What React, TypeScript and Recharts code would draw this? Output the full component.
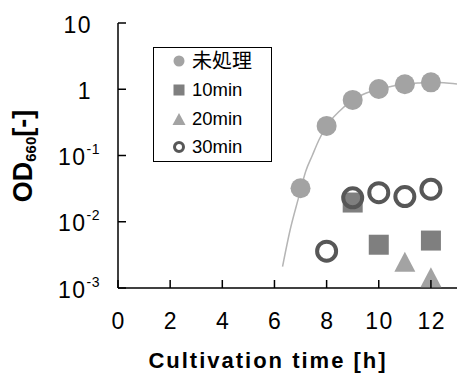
import React from 'react';
import { ComposedChart, XAxis, YAxis, Scatter, Line } from 'recharts';

// ---- data ----
const untreatedHours = [7, 8, 9, 10, 11, 12];
const untreatedOD = [0.032, 0.28, 0.69, 1.01, 1.19, 1.27];
const min10Hours = [9, 10, 12];
const min10OD = [0.0195, 0.0045, 0.0052];
const min20Hours = [11, 12];
const min20OD = [0.0025, 0.00145];
const min30Hours = [8, 9, 10, 11, 12];
const min30OD = [0.0036, 0.023, 0.0275, 0.024, 0.031];
const fitHours = [6.31, 6.6, 6.92, 7.2, 7.45, 7.7, 8, 8.5, 9, 9.5, 10, 10.5, 11, 11.5, 12, 12.5, 13];
const fitOD = [0.0021, 0.0075, 0.0227, 0.058, 0.1, 0.17, 0.28, 0.47, 0.69, 0.87, 1.01, 1.11, 1.19, 1.24, 1.27, 1.25, 1.2];
const seriesNames = ['未処理', '10min', '20min', '30min'];
const xTicks = [0, 2, 4, 6, 8, 10, 12];
const yTicks = [0.001, 0.01, 0.1, 1, 10];
const yTickBases = ['10', '10', '10', '1', '10'];
const yTickExps = ['-3', '-2', '-1', '', ''];
const xTitle = 'Cultivation time [h]';

const toPoints = (hs: number[], vs: number[]) => hs.map((t, i) => ({ t, od: vs[i] }));
const untreatedData = toPoints(untreatedHours, untreatedOD);
const min10Data = toPoints(min10Hours, min10OD);
const min20Data = toPoints(min20Hours, min20OD);
const min30Data = toPoints(min30Hours, min30OD);
const fitData = toPoints(fitHours, fitOD);

const FONT = "'Liberation Sans', Arial, sans-serif";
const C_CIRCLE = '#a3a3a3';
const C_SQUARE = '#7f7f7f';
const C_TRI = '#a3a3a3';
const C_RING = '#575757';

const YTick = (props: any) => {
  const { x, y, payload } = props;
  const i = yTicks.indexOf(payload.value);
  const exp = i >= 0 ? yTickExps[i] : '';
  const base = i >= 0 ? yTickBases[i] : String(payload.value);
  return (
    <g>
      <line x1={x} x2={x + 8} y1={y} y2={y} stroke="#000" strokeWidth={1.5} />
      <text x={exp ? x - 18 : x - 26} y={y + 9.5} textAnchor="end" fontSize={23} fill="#000"
        fontFamily={FONT} letterSpacing={1.5}>
        <tspan>{base}</tspan>
        {exp ? <tspan dy={-11} fontSize={14} letterSpacing={0.5}>{exp}</tspan> : null}
      </text>
    </g>
  );
};

const XTick = (props: any) => {
  const { x, y, payload } = props;
  return (
    <g>
      <line x1={x} x2={x} y1={y} y2={y - 8} stroke="#000" strokeWidth={1.5} />
      <text x={x + 0.75} y={y + 41} textAnchor="middle" fontSize={23} fill="#000"
        fontFamily={FONT} letterSpacing={1.5}>{payload.value}</text>
    </g>
  );
};

const circleShape = (p: any) => <circle cx={p.cx} cy={p.cy} r={10} fill={C_CIRCLE} />;
const squareShape = (p: any) => <rect x={p.cx - 10} y={p.cy - 10} width={20} height={20} fill={C_SQUARE} />;
const triShape = (p: any) => (
  <polygon points={`${p.cx},${p.cy - 10} ${p.cx + 10.5},${p.cy + 10} ${p.cx - 10.5},${p.cy + 10}`} fill={C_TRI} />
);
const ringShape = (p: any) => <circle cx={p.cx} cy={p.cy} r={9.5} fill="none" stroke={C_RING} strokeWidth={4} />;

const legendMarkers = [
  <circle cx={8} cy={8} r={5.5} fill={C_CIRCLE} />,
  <rect x={2.5} y={2.5} width={11} height={11} fill={C_SQUARE} />,
  <polygon points="8,2 14.5,14 1.5,14" fill={C_TRI} />,
  <circle cx={8} cy={8} r={4.5} fill="none" stroke={C_RING} strokeWidth={3} />,
];
const legendRowCenters = [13.5, 42.5, 71, 99.5];

export default function App() {
  return (
    <div style={{ position: 'absolute', left: 0, top: 0, width: 457, height: 376, background: '#fff' }}>
      <ComposedChart width={457} height={376} margin={{ top: 23, right: 0, bottom: 0, left: 0 }}
        style={{ fontFamily: FONT }}>
        <XAxis xAxisId="top" orientation="top" type="number" dataKey="t" domain={[0, 13]} height={0}
          tick={false} tickLine={false} axisLine={{ stroke: '#737373', strokeWidth: 2 }} allowDataOverflow />
        <XAxis type="number" dataKey="t" domain={[0, 13]} ticks={xTicks} height={88} allowDataOverflow
          tickSize={0} tickMargin={0} tickLine={false} axisLine={{ stroke: '#000', strokeWidth: 1.5 }}
          tick={<XTick />}
          label={{
            content: () => (
              <text x={268} y={368} textAnchor="middle" fontSize={22} fontWeight="bold" fill="#000"
                fontFamily={FONT} letterSpacing={2}>{xTitle}</text>
            ),
          }} />
        <YAxis type="number" dataKey="od" scale="log" domain={[0.001, 10]} ticks={yTicks} width={118}
          allowDataOverflow tickSize={0} tickMargin={0} tickLine={false}
          axisLine={{ stroke: '#000', strokeWidth: 1.5 }} tick={<YTick />}
          label={{
            content: () => (
              <text transform="rotate(-90, 32, 156)" x={32} y={156} textAnchor="middle" fontSize={27}
                fontWeight="bold" fill="#000" fontFamily={FONT}>
                <tspan>OD</tspan>
                <tspan dy={4} fontSize={15}>660</tspan>
                <tspan dy={-4}>[-]</tspan>
              </text>
            ),
          }} />
        <Line data={fitData} dataKey="od" type="monotone" stroke="#b5b5b5" strokeWidth={1.5} dot={false}
          activeDot={false} isAnimationActive={false} legendType="none" />
        <Scatter name={seriesNames[0]} data={untreatedData} shape={circleShape} isAnimationActive={false} />
        <Scatter name={seriesNames[1]} data={min10Data} shape={squareShape} isAnimationActive={false} />
        <Scatter name={seriesNames[2]} data={min20Data} shape={triShape} isAnimationActive={false} />
        <Scatter name={seriesNames[3]} data={min30Data} shape={ringShape} isAnimationActive={false} />
      </ComposedChart>
      <div style={{
        position: 'absolute', left: 152.5, top: 46.5, width: 119.5, height: 115.5, boxSizing: 'border-box',
        border: '1px solid #000', background: '#fff',
      }}>
        {seriesNames.map((name, i) => (
          <React.Fragment key={name}>
            <svg width={16} height={16} style={{ position: 'absolute', left: 17.5, top: legendRowCenters[i] - 8 }}>
              {legendMarkers[i]}
            </svg>
            <div style={{
              position: 'absolute', left: 38.5, top: legendRowCenters[i] - 12, height: 24, lineHeight: '24px',
              fontSize: /[\u3000-\u9fff]/.test(name) ? 20 : 18.5, whiteSpace: 'nowrap', color: '#000',
              fontFamily: "'Liberation Sans', 'Noto Sans CJK JP', sans-serif",
            }}>{name}</div>
          </React.Fragment>
        ))}
      </div>
    </div>
  );
}
